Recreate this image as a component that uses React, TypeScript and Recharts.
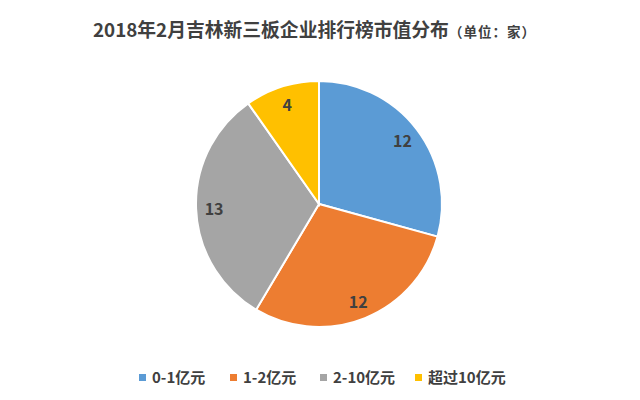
import { PieChart, Pie, Cell } from "recharts"

const categories = ["0-1亿元", "1-2亿元", "2-10亿元", "超过10亿元"]
const counts = [12, 12, 13, 4]
const colors = ["#5B9BD5", "#ED7D31", "#A5A5A5", "#FFC000"]

const data = categories.map((name, i) => ({ name, value: counts[i] }))

const FONT = '"Noto Sans CJK SC", "Noto Sans", sans-serif'
const RAD = Math.PI / 180
const legendX = [139, 230, 320, 415]

const renderLabel = (props: any) => {
    const { cx, cy, midAngle, value } = props
    const r = 105
    const x = cx + r * Math.cos(-midAngle * RAD)
    const y = cy + r * Math.sin(-midAngle * RAD)
    return (
        <text
            x={x}
            y={y}
            fill="#404040"
            fontSize={16}
            fontWeight="bold"
            fontFamily={FONT}
            textAnchor="middle"
            dominantBaseline="central"
        >
            {value}
        </text>
    )
}

export default function App() {
    return (
        <div style={{ position: "absolute", left: 0, top: 0, width: 640, height: 400, background: "#fff", fontFamily: FONT }}>
            <div style={{ position: "absolute", left: 93, top: 15, color: "#404040", whiteSpace: "nowrap" }}>
                <span style={{ fontSize: 18.8, fontWeight: "bold" }}>2018年2月吉林新三板企业排行榜市值分布</span>
                <span style={{ fontSize: 13.5, fontWeight: "bold", letterSpacing: 1 }}>（单位：家）</span>
            </div>

            <PieChart width={640} height={400} margin={{ top: 0, right: 0, bottom: 0, left: 0 }} style={{ position: "absolute", left: 0, top: 0 }}>
                <Pie
                    data={data}
                    dataKey="value"
                    nameKey="name"
                    cx={319}
                    cy={204}
                    outerRadius={123}
                    startAngle={90}
                    endAngle={-270}
                    stroke="#fff"
                    strokeWidth={2}
                    label={renderLabel}
                    labelLine={false}
                    isAnimationActive={false}
                >
                    {data.map((entry, index) => (
                        <Cell key={`cell-${index}`} fill={colors[index]} />
                    ))}
                </Pie>
            </PieChart>

            {categories.map((name, i) => (
                <div
                    key={name}
                    style={{ position: "absolute", left: legendX[i], top: 366, display: "flex", alignItems: "center", color: "#404040", fontSize: 15, fontWeight: "bold", whiteSpace: "nowrap", lineHeight: "22px" }}
                >
                    <span style={{ width: 7, height: 7, background: colors[i], marginRight: 6, display: "inline-block" }} />
                    <span>{name}</span>
                </div>
            ))}
        </div>
    )
}
